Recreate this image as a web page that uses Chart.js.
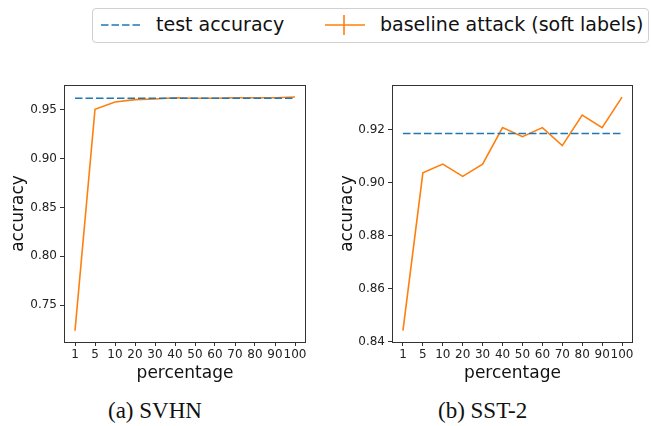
<!DOCTYPE html>
<html>
<head>
<meta charset="utf-8">
<script src="https://cdn.jsdelivr.net/npm/chart.js@4/dist/chart.umd.min.js"></script>
<style>
  html, body { margin: 0; padding: 0; background: #fff; }
  #page { position: relative; width: 651px; height: 426px; overflow: hidden; font-family: "DejaVu Sans", sans-serif; }
  .panel { position: absolute; top: 60px; height: 330px; }
  .legend { position: absolute; left: 92px; top: 8px; width: 555px; height: 33px;
            border: 1px solid #d0d0d0; border-radius: 4px; box-sizing: content-box; }
  .legend svg { position: absolute; left: 0; top: 0; }
  .legend span { position: absolute; font-size: 19px; color: #111; line-height: 1; top: 6px; white-space: nowrap; }
  .caption { position: absolute; font-family: "Liberation Serif", "Times New Roman", serif; font-size: 23px; color: #111; top: 398px; white-space: nowrap; }
</style>
</head>
<body>
<div id="page">
  <div class="legend">
    <svg width="557" height="35">
      <line x1="8" y1="16" x2="48" y2="16" stroke="#1f77b4" stroke-width="1.6" stroke-dasharray="7.5 3"/>
      <line x1="232" y1="16" x2="272" y2="16" stroke="#ff7f0e" stroke-width="1.6"/>
      <line x1="251" y1="6" x2="251" y2="26" stroke="#ff7f0e" stroke-width="1.6"/>
    </svg>
    <span style="left:63px">test accuracy</span>
    <span style="left:287px">baseline attack (soft labels)</span>
  </div>
  <canvas id="svhn" class="panel" style="left:0px" width="320" height="330"></canvas>
  <canvas id="sst2" class="panel" style="left:320px" width="331" height="330"></canvas>
  <div class="caption" style="left:108px">(a) SVHN</div>
  <div class="caption" style="left:438px">(b) SST-2</div>
</div>
<script>
// x categories: percentage of data used
const percentages = ['1', '5', '10', '20', '30', '40', '50', '60', '70', '80', '90', '100'];

// SVHN
const svhnTest     = [0.9620, 0.9620, 0.9620, 0.9620, 0.9620, 0.9620, 0.9620, 0.9620, 0.9620, 0.9620, 0.9620, 0.9620];
const svhnBaseline = [0.7236, 0.9507, 0.9582, 0.9606, 0.9613, 0.9626, 0.9620, 0.9620, 0.9626, 0.9626, 0.9626, 0.9633];
const svhnTicks    = [0.75, 0.80, 0.85, 0.90, 0.95];

// SST-2
const sstTest      = [0.9187, 0.9187, 0.9187, 0.9187, 0.9187, 0.9187, 0.9187, 0.9187, 0.9187, 0.9187, 0.9187, 0.9187];
const sstBaseline  = [0.8442, 0.9038, 0.9071, 0.9025, 0.9071, 0.9209, 0.9175, 0.9209, 0.9141, 0.9256, 0.9209, 0.9324];
const sstTicks     = [0.84, 0.86, 0.88, 0.90, 0.92];

const frame = {
  id: 'frame',
  afterDraw(chart) {
    const a = chart.chartArea, ctx = chart.ctx;
    ctx.save();
    ctx.strokeStyle = '#333';
    ctx.lineWidth = 1;
    ctx.strokeRect(Math.round(a.left) + 0.5, Math.round(a.top) + 0.5,
                   Math.round(a.right - a.left) - 1, Math.round(a.bottom - a.top));
    ctx.restore();
  }
};

function makeChart(id, test, baseline, yTicks, yMin, yMax, yWidth, padRight, titlePad) {
  const pts = arr => arr.map((v, i) => ({ x: i, y: v }));
  return new Chart(document.getElementById(id), {
    type: 'line',
    data: {
      datasets: [
        { label: 'test accuracy', data: pts(test), borderColor: '#1f77b4',
          borderWidth: 1.6, borderDash: [7.5, 3], pointRadius: 0, tension: 0 },
        { label: 'baseline attack (soft labels)', data: pts(baseline), borderColor: '#ff7f0e',
          borderWidth: 1.6, pointRadius: 0, tension: 0 }
      ]
    },
    options: {
      responsive: false,
      animation: false,
      layout: { padding: { top: 25, right: padRight, left: 0, bottom: 0 } },
      plugins: { legend: { display: false }, tooltip: { enabled: false } },
      scales: {
        x: {
          type: 'linear', min: -0.55, max: percentages.length - 1 + 0.55,
          afterBuildTicks: s => { s.ticks = percentages.map((_, i) => ({ value: i })); },
          afterFit: s => { s.height = 48; },
          grid: { drawOnChartArea: false, drawTicks: true, tickLength: 4, color: '#333' },
          border: { display: false },
          ticks: { autoSkip: false, maxRotation: 0, padding: 2, color: '#222',
                   font: { family: 'DejaVu Sans', size: 12 },
                   callback: v => percentages[v] },
          title: { display: true, text: 'percentage', color: '#111',
                   font: { family: 'DejaVu Sans', size: 17 }, padding: { top: 0, bottom: 6 } }
        },
        y: {
          min: yMin, max: yMax,
          afterBuildTicks: s => { s.ticks = yTicks.map(v => ({ value: v })); },
          afterFit: s => { s.width = yWidth; },
          grid: { drawOnChartArea: false, drawTicks: true, tickLength: 4, color: '#333' },
          border: { display: false },
          ticks: { padding: 3, color: '#222', font: { family: 'DejaVu Sans', size: 12 },
                   callback: v => v.toFixed(2) },
          title: { display: true, text: 'accuracy', color: '#111',
                   font: { family: 'DejaVu Sans', size: 17 }, padding: { top: titlePad, bottom: 0 } }
        }
      }
    },
    plugins: [frame]
  });
}

makeChart('svhn', svhnTest, svhnBaseline, svhnTicks, 0.7121, 0.9756, 64, 14, 8);
makeChart('sst2', sstTest, sstBaseline, sstTicks, 0.8399, 0.9370, 72, 18, 17);
</script>
</body>
</html>
